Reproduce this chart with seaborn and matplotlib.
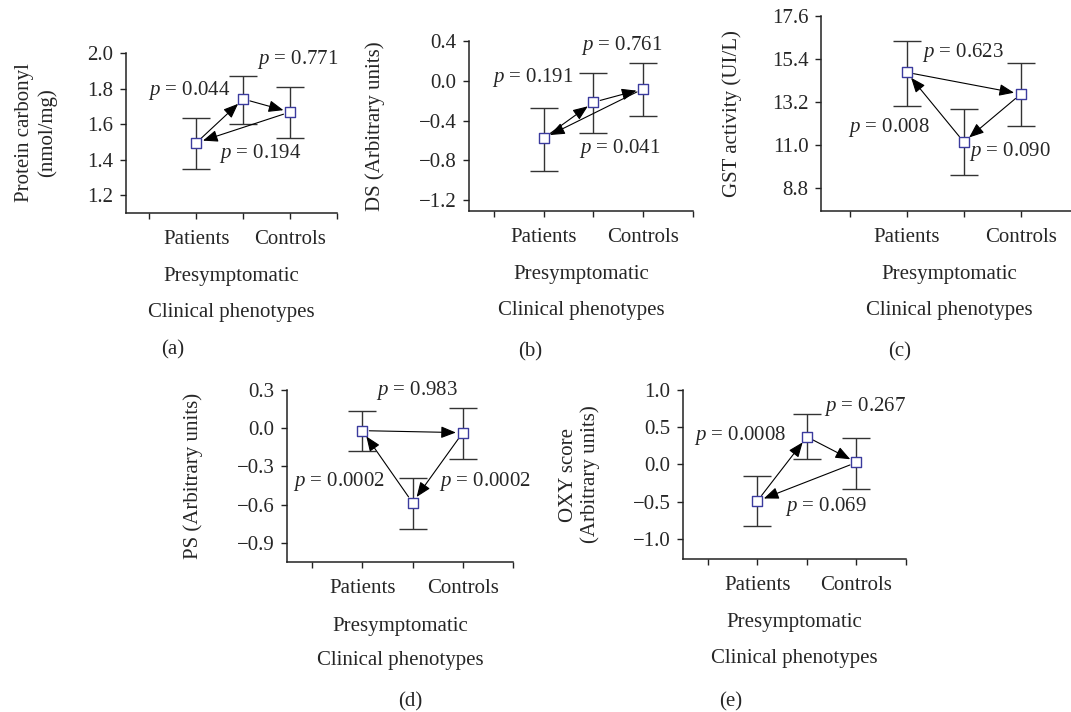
import numpy as np
import pandas as pd
import matplotlib
matplotlib.use("Agg")
import matplotlib.pyplot as plt
import seaborn as sns

# groups on the x axis (positions 1, 2, 3)
groups = ["Patients", "Presymptomatic", "Controls"]
group_x = [1, 2, 3]

# (a) protein carbonyl
carb_mean = [1.495, 1.741, 1.668]
carb_low = [1.345, 1.603, 1.520]
carb_high = [1.637, 1.872, 1.811]
carb_pairs = [(0, 1), (1, 2), (2, 0)]
carb_p = ["0.044", "0.771", "0.194"]
carb_ticks = [1.2, 1.4, 1.6, 1.8, 2.0]

# (b) DS
ds_mean = [-0.577, -0.216, -0.081]
ds_low = [-0.906, -0.524, -0.350]
ds_high = [-0.269, 0.078, 0.181]
ds_pairs = [(0, 1), (1, 2), (2, 0)]
ds_p = ["0.191", "0.761", "0.041"]
ds_ticks = [-1.2, -0.8, -0.4, 0.0, 0.4]

# (c) GST activity
gst_mean = [14.71, 11.14, 13.60]
gst_low = [12.98, 9.43, 11.98]
gst_high = [16.31, 12.82, 15.21]
gst_pairs = [(0, 2), (2, 1), (1, 0)]
gst_p = ["0.623", "0.090", "0.008"]
gst_ticks = [8.8, 11.0, 13.2, 15.4, 17.6]

# (d) PS
ps_mean = [-0.019, -0.584, -0.035]
ps_low = [-0.178, -0.791, -0.242]
ps_high = [0.133, -0.393, 0.157]
ps_pairs = [(0, 2), (2, 1), (1, 0)]
ps_p = ["0.983", "0.0002", "0.0002"]
ps_ticks = [-0.9, -0.6, -0.3, 0.0, 0.3]

# (e) OXY score
oxy_mean = [-0.491, 0.371, 0.027]
oxy_low = [-0.826, 0.067, -0.326]
oxy_high = [-0.152, 0.683, 0.357]
oxy_pairs = [(0, 1), (1, 2), (2, 0)]
oxy_p = ["0.0008", "0.267", "0.069"]
oxy_ticks = [-1.0, -0.5, 0.0, 0.5, 1.0]

sns.set_style("ticks")
plt.rcParams["font.family"] = ["Liberation Serif", "DejaVu Serif"]
plt.rcParams["mathtext.fontset"] = "custom"
plt.rcParams["mathtext.rm"] = "Liberation Serif"
plt.rcParams["mathtext.it"] = "Liberation Serif:italic"

W, H = 1071, 712
FS = 15
fig = plt.figure(figsize=(W / 100, H / 100), dpi=100)

# layout: axes box in pixels (left, right, top, bottom), ylim, ylabel x, p-label spots
panels = [
    dict(mean=carb_mean, low=carb_low, high=carb_high, pairs=carb_pairs, p=carb_p,
         ticks=carb_ticks, ylabel="Protein carbonyl\n(nmol/mg)",
         box=(126, 337, 53, 213), ylim=(1.1, 2.0), lab_x=-0.425, letter="(a)", lpos=(173, 350),
         spots=[(1.72, 1.79, "right"), (2.30, 1.965, "left"), (1.475, 1.437, "left")]),
    dict(mean=ds_mean, low=ds_low, high=ds_high, pairs=ds_pairs, p=ds_p,
         ticks=ds_ticks, ylabel="DS (Arbitrary units)",
         box=(469, 693, 41, 211), ylim=(-1.31, 0.4), lab_x=-0.42, letter="(b)", lpos=(530, 352),
         spots=[(1.6, 0.032, "right"), (1.747, 0.35, "left"), (1.70, -0.683, "left")]),
    dict(mean=gst_mean, low=gst_low, high=gst_high, pairs=gst_pairs, p=gst_p,
         ticks=gst_ticks, ylabel="GST activity (UI/L)",
         box=(821, 1078, 16, 211), ylim=(7.6, 17.6), lab_x=-0.346, letter="(c)", lpos=(900, 352),
         spots=[(1.26, 15.71, "left"), (2.10, 10.67, "left"), (1.41, 11.88, "right")]),
    dict(mean=ps_mean, low=ps_low, high=ps_high, pairs=ps_pairs, p=ps_p,
         ticks=ps_ticks, ylabel="PS (Arbitrary units)",
         box=(287, 513, 390, 562), ylim=(-1.05, 0.3), lab_x=-0.416, letter="(d)", lpos=(410, 702),
         spots=[(1.28, 0.295, "left"), (2.52, -0.417, "left"), (1.46, -0.417, "right")]),
    dict(mean=oxy_mean, low=oxy_low, high=oxy_high, pairs=oxy_pairs, p=oxy_p,
         ticks=oxy_ticks, ylabel="OXY score\n(Arbitrary units)",
         box=(683, 906, 390, 559), ylim=(-1.27, 1.0), lab_x=-0.464, letter="(e)", lpos=(731, 702),
         spots=[(1.58, 0.393, "right"), (2.34, 0.772, "left"), (1.56, -0.567, "left")]),
]

edge = "#222222"
for pn in panels:
    l, r, t, b = pn["box"]
    ax = fig.add_axes([l / W, (H - b) / H, (r - l) / W, (b - t) / H])
    mean = np.array(pn["mean"])
    low = np.array(pn["low"])
    high = np.array(pn["high"])
    df = pd.DataFrame({"x": group_x, "y": mean, "group": groups})

    ax.errorbar(group_x, mean, yerr=[mean - low, high - mean], fmt="none",
                ecolor="#333333", elinewidth=1.0, capsize=10, capthick=1.0, zorder=1)
    for (i, j), lab, (tx, ty, ha) in zip(pn["pairs"], pn["p"], pn["spots"]):
        ax.annotate("", xy=(group_x[j], mean[j]), xytext=(group_x[i], mean[i]),
                    arrowprops=dict(arrowstyle="-|>,head_length=0.6,head_width=0.24",
                                    color="black", lw=0.8, shrinkA=5, shrinkB=5,
                                    mutation_scale=15), zorder=2)
        ax.text(tx, ty, f"$p$ = {lab}", ha=ha, va="center", fontsize=FS, clip_on=False)
    sns.scatterplot(data=df, x="x", y="y", marker="s", s=48, facecolor="white",
                    edgecolor="#3b3b9e", linewidth=1.0, zorder=3, ax=ax, legend=False)

    ax.set_xlim(-0.5, 4)
    ax.set_ylim(*pn["ylim"])
    ax.set_xticks([0, 1, 2, 3, 4])
    ax.set_xticklabels(["", "Patients", "", "Controls", ""], fontsize=FS)
    ax.set_yticks(pn["ticks"])
    ax.set_yticklabels([f"{v:.1f}".replace("-", "\u2212") for v in pn["ticks"]], fontsize=FS)
    ax.tick_params(axis="both", length=4, width=1.0, color=edge, pad=5)
    ax.tick_params(axis="x", pad=8)
    for side in ["top", "right"]:
        ax.spines[side].set_visible(False)
    for side in ["left", "bottom"]:
        ax.spines[side].set_color(edge)
        ax.spines[side].set_linewidth(1.1)

    ax.set_xlabel("")
    ax.set_ylabel(pn["ylabel"], fontsize=FS, va="center")
    ax.yaxis.set_label_coords(pn["lab_x"], 0.5)

    ax.annotate("Presymptomatic", xy=(0.5, 0), xycoords="axes fraction",
                xytext=(0, -64 * 0.72), textcoords="offset points",
                ha="center", va="center", fontsize=FS)
    ax.annotate("Clinical phenotypes", xy=(0.5, 0), xycoords="axes fraction",
                xytext=(0, -99 * 0.72), textcoords="offset points",
                ha="center", va="center", fontsize=FS)
    lx, ly = pn["lpos"]
    fig.text(lx / W, (H - ly) / H, pn["letter"], ha="center", va="center", fontsize=FS)

fig.savefig("out.png", dpi=100)
